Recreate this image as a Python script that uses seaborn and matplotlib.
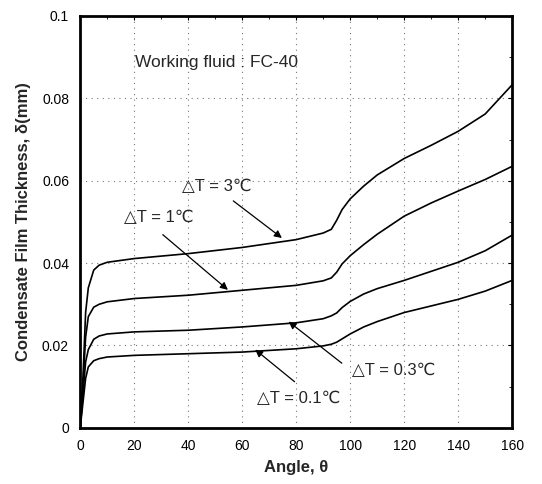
import pandas as pd
import numpy as np
import seaborn as sns
import matplotlib.pyplot as plt

# angle (deg) and film thickness (mm)
angle = [0, 1, 2, 3, 5, 7, 10, 20, 40, 60, 80, 90, 93, 95, 97, 100, 105, 110, 120, 130, 140, 150, 160]
dt_3 = [0, 0.012, 0.028, 0.034, 0.0383, 0.0395, 0.0402, 0.0411, 0.0423, 0.0438, 0.0457, 0.0473, 0.0482,
        0.0504, 0.053, 0.0556, 0.0587, 0.0614, 0.0654, 0.0686, 0.0720, 0.0762, 0.0833]
dt_1 = [0, 0.010, 0.022, 0.027, 0.0293, 0.0300, 0.0306, 0.0314, 0.0322, 0.0334, 0.0346, 0.0357, 0.0364,
        0.0378, 0.0398, 0.0418, 0.0445, 0.0470, 0.0514, 0.0546, 0.0575, 0.0603, 0.0635]
dt_03 = [0, 0.008, 0.016, 0.019, 0.0215, 0.0223, 0.0228, 0.0233, 0.0237, 0.0245, 0.0255, 0.0265, 0.0272,
         0.0279, 0.0292, 0.0307, 0.0325, 0.0338, 0.0358, 0.0380, 0.0402, 0.0430, 0.0468]
dt_01 = [0, 0.006, 0.012, 0.0148, 0.0163, 0.0168, 0.0172, 0.0176, 0.0180, 0.0184, 0.0192, 0.0199, 0.0203,
         0.0208, 0.0216, 0.0228, 0.0245, 0.0258, 0.0280, 0.0296, 0.0312, 0.0332, 0.0358]

series = {"3": dt_3, "1": dt_1, "0.3": dt_03, "0.1": dt_01}
df = pd.concat([pd.DataFrame({"angle": angle, "delta": v, "dT": k}) for k, v in series.items()])

sns.set_style("white")
plt.rcParams['font.family'] = ['Liberation Sans', 'DejaVu Sans']

fig, ax = plt.subplots(figsize=(5.42, 4.84), dpi=100)
fig.subplots_adjust(left=0.148, right=0.945, top=0.967, bottom=0.116)

sns.lineplot(data=df, x="angle", y="delta", units="dT", estimator=None,
             color="black", linewidth=1.2, ax=ax, legend=False)

ax.set_xlim(0, 160)
ax.set_ylim(0, 0.1)
ax.set_xticks(np.arange(0, 161, 20))
ax.set_xticks(np.arange(10, 160, 20), minor=True)
ax.set_yticks([0, 0.02, 0.04, 0.06, 0.08, 0.1])
ax.set_yticks([0.01, 0.03, 0.05, 0.07, 0.09], minor=True)
ax.set_yticklabels(["0", "0.02", "0.04", "0.06", "0.08", "0.1"])
ax.grid(True, which="major", linestyle=(0, (1, 4)), color="#777777", linewidth=0.8)
for s in ax.spines.values():
    s.set_linewidth(2)
    s.set_color("black")
ax.tick_params(which="both", direction="in", colors="black", top=True, right=True)
ax.tick_params(which="major", length=3, labelsize=10, pad=8)
ax.tick_params(which="minor", length=2)

ax.set_xlabel("Angle, θ", fontsize=12, fontweight="bold", labelpad=5)
ax.set_ylabel("Condensate Film Thickness, δ(mm)", fontsize=12, fontweight="bold", labelpad=8)

ax.text(20.4, 0.0886, "Working fluid : FC-40", fontsize=12.5, va="center", ha="left")

ann = [("△T = 3℃", (50.6, 0.0585), (56.7, 0.0551), (74.7, 0.0461)),
       ("△T = 1℃", (29.0, 0.0510), (30.6, 0.0469), (54.7, 0.0335)),
       ("△T = 0.3℃", (116.0, 0.0139), (96.9, 0.0157), (77.2, 0.0258)),
       ("△T = 0.1℃", (80.9, 0.0072), (79.4, 0.0112), (64.8, 0.0190))]
for label, tpos, start, end in ann:
    ax.text(tpos[0], tpos[1], label, fontsize=12, ha="center", va="center")
    ax.annotate("", xy=end, xytext=start,
                arrowprops=dict(arrowstyle="-|>", color="black", lw=0.9,
                                mutation_scale=11, shrinkA=0, shrinkB=0))

fig.savefig("out.png", dpi=100)
